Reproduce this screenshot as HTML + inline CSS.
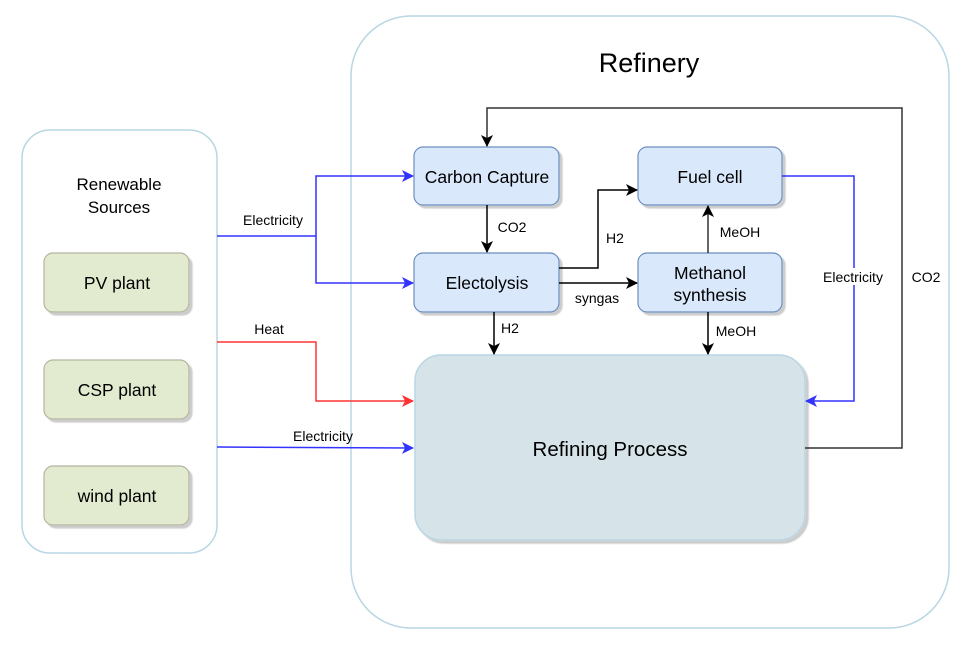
<!DOCTYPE html>
<html><head><meta charset="utf-8"><style>
body{margin:0;background:#fff}
svg{display:block;font-family:"Liberation Sans",Helvetica,Arial,sans-serif}
</style></head><body>
<svg width="975" height="649" viewBox="0 0 975 649" xmlns="http://www.w3.org/2000/svg">
<defs>
<marker id="ak" markerWidth="12" markerHeight="12" refX="11" refY="6" orient="auto" markerUnits="userSpaceOnUse"><path d="M0,0 L12,6 L0,12 L3,6 Z" fill="#000"/></marker>
<marker id="ab" markerWidth="12" markerHeight="12" refX="11" refY="6" orient="auto" markerUnits="userSpaceOnUse"><path d="M0,0 L12,6 L0,12 L3,6 Z" fill="#3333ff"/></marker>
<marker id="ar" markerWidth="12" markerHeight="12" refX="11" refY="6" orient="auto" markerUnits="userSpaceOnUse"><path d="M0,0 L12,6 L0,12 L3,6 Z" fill="#ff3333"/></marker>
<filter id="sh" x="-10%" y="-10%" width="130%" height="130%"><feDropShadow dx="3" dy="3" stdDeviation="0.6" flood-color="#000" flood-opacity="0.2"/></filter>
</defs>
<rect x="351" y="16" width="598" height="612" rx="60" fill="#fff" stroke="#b8d6e3" stroke-width="1.5"/>
<rect x="22" y="130" width="195" height="423" rx="28" fill="#fff" stroke="#b8d6e3" stroke-width="1.5"/>
<text x="649" y="72" font-size="27" text-anchor="middle">Refinery</text>
<text x="119" y="190" font-size="17" text-anchor="middle">Renewable</text>
<text x="119" y="213" font-size="17" text-anchor="middle">Sources</text>
<g fill="#e2ebcf" stroke="#b4b4a0" stroke-width="1.2" filter="url(#sh)">
<rect x="44" y="253" width="145" height="59" rx="9"/>
<rect x="44" y="360" width="145" height="59" rx="9"/>
<rect x="44" y="466" width="145" height="59" rx="9"/>
</g>
<g font-size="17.5" text-anchor="middle">
<text x="117" y="289">PV plant</text>
<text x="117" y="396">CSP plant</text>
<text x="117" y="502">wind plant</text>
</g>
<g fill="#dae8fc" stroke="#6c8ebf" stroke-width="1.2" filter="url(#sh)">
<rect x="414" y="147" width="145" height="58" rx="9"/>
<rect x="414" y="253" width="145" height="59" rx="9"/>
<rect x="638" y="147" width="144" height="58" rx="9"/>
<rect x="638" y="253" width="144" height="59" rx="9"/>
</g>
<rect x="415" y="355" width="390" height="185" rx="26" fill="#d6e4ea" stroke="#b8d6e3" stroke-width="1.5" filter="url(#sh)"/>
<g font-size="17.5" text-anchor="middle">
<text x="487" y="183">Carbon Capture</text>
<text x="487" y="289">Electolysis</text>
<text x="710" y="183">Fuel cell</text>
<text x="710" y="279">Methanol</text>
<text x="710" y="301">synthesis</text>
<text x="610" y="456" font-size="20.5">Refining Process</text>
</g>
<g fill="none" stroke-width="1.5">
<path d="M217,236 H316 V176 H413" stroke="#3333ff" marker-end="url(#ab)"/>
<path d="M316,236 V283 H413" stroke="#3333ff" marker-end="url(#ab)"/>
<path d="M217,342 H316 V401 H413" stroke="#ff3333" marker-end="url(#ar)"/>
<path d="M217,447 L413,448" stroke="#3333ff" marker-end="url(#ab)"/>
<path d="M782,176 H854 V401 H806" stroke="#3333ff" marker-end="url(#ab)"/>
<path d="M805,448 H902 V108 H487 V146" stroke="#333" marker-end="url(#ak)"/>
<path d="M487,205 V252" stroke="#000" marker-end="url(#ak)"/>
<path d="M559,268 H598 V190 H637" stroke="#000" marker-end="url(#ak)"/>
<path d="M559,283 H637" stroke="#000" marker-end="url(#ak)"/>
<path d="M708,253 V206" stroke="#333" marker-end="url(#ak)"/>
<path d="M708,312 V354" stroke="#000" marker-end="url(#ak)"/>
<path d="M494,312 V354" stroke="#000" marker-end="url(#ak)"/>
</g>
<g font-size="14" text-anchor="middle">
<text x="273" y="225">Electricity</text>
<text x="269" y="334">Heat</text>
<text x="323" y="441">Electricity</text>
<rect x="818" y="268" width="72" height="17" fill="#fff"/>
<text x="853" y="282">Electricity</text>
<text x="926" y="282">CO2</text>
<text x="512" y="232">CO2</text>
<text x="615" y="243">H2</text>
<text x="597" y="303">syngas</text>
<text x="510" y="333">H2</text>
<text x="740" y="237">MeOH</text>
<text x="736" y="336">MeOH</text>
</g>
</svg>
</body></html>
